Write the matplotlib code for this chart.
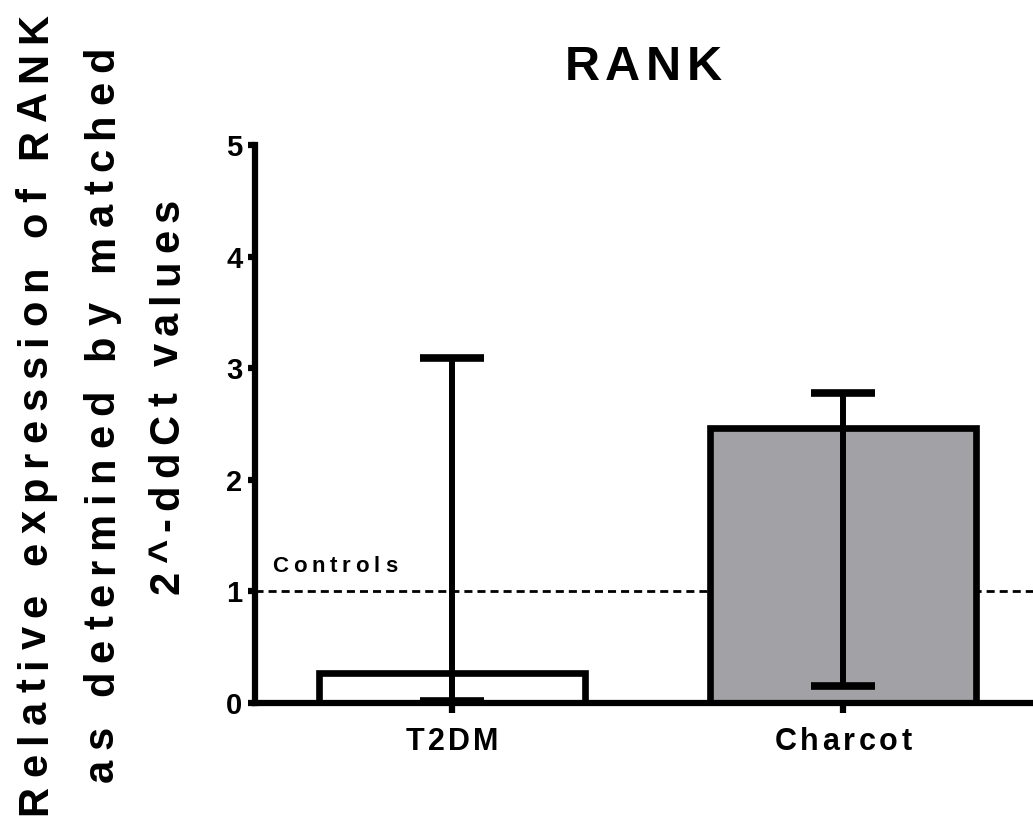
import matplotlib
matplotlib.use('Agg')
import matplotlib.pyplot as plt
from matplotlib.font_manager import FontProperties
from matplotlib.transforms import IdentityTransform

FONT = ['Liberation Sans Narrow', 'Liberation Sans', 'DejaVu Sans']
plt.rcParams['font.family'] = FONT
plt.rcParams['font.weight'] = 'bold'

groups = ['T2DM', 'Charcot']
values = [0.27, 2.46]
err_low = [0.02, 0.15]
err_high = [3.09, 2.78]
bar_colors = ['white', '#a2a1a5']
control_level = 1.0
y_ticks = [0, 1, 2, 3, 4, 5]

W, H = 1033, 819


def advances(renderer, s, prop):
    # width each character adds to a line, spaces included
    base = renderer.get_text_width_height_descent('II', prop, ismath=False)[0]
    return [renderer.get_text_width_height_descent('I' + c + 'I', prop, ismath=False)[0] - base
            for c in s]


def spaced_text(fig, x, y, s, size, span, rotation=0, align='center'):
    """Draw s letter by letter, spread over `span` pixels.

    x, y are display pixels of the baseline anchor; for rotation=90 the
    text runs upwards and x is the baseline.
    """
    renderer = fig.canvas.get_renderer()
    prop = FontProperties(family=FONT, weight='bold', size=size)
    adv = advances(renderer, s, prop)
    track = (span - sum(adv)) / (len(s) - 1)
    pos = -span / 2 if align == 'center' else 0
    for c, a in zip(s, adv):
        if c != ' ':
            px, py = (x, y + pos) if rotation == 90 else (x + pos, y)
            fig.text(px, py, c, fontproperties=prop, rotation=rotation,
                     rotation_mode='anchor', ha='left', va='baseline',
                     transform=IdentityTransform())
        pos += a + track


fig = plt.figure(figsize=(W / 100, H / 100), dpi=100)
ax = fig.add_axes([255 / W, 1 - 703 / H, 1 - 255 / W, (703 - 145) / H])

x = list(range(len(groups)))
yerr = [[v - lo for v, lo in zip(values, err_low)],
        [hi - v for v, hi in zip(values, err_high)]]

ax.bar(x, values, width=0.68, color=bar_colors, edgecolor='black',
       linewidth=4.8, zorder=2)
ax.errorbar(x, values, yerr=yerr, fmt='none', ecolor='black',
            elinewidth=4.3, capsize=23, capthick=5.5, zorder=3)

ax.axhline(control_level, color='black', linestyle=(0, (2.9, 1.8)),
           linewidth=2, zorder=1)

ax.set_xlim(-0.504, 1.486)
ax.set_ylim(0, 5)
ax.set_yticks(y_ticks)
ax.set_yticklabels([str(t) for t in y_ticks], fontsize=21, fontweight='bold')
ax.set_xticks(x)
ax.set_xticklabels([])

for side in ['top', 'right']:
    ax.spines[side].set_visible(False)
for side in ['left', 'bottom']:
    ax.spines[side].set_linewidth(4.5)
ax.tick_params(axis='y', length=5, width=4.5, pad=4)
ax.tick_params(axis='x', length=7, width=4.5)

# category labels under the bars
label_spans = [93, 137]
for xi, g, span in zip(x, groups, label_spans):
    cx = ax.transData.transform((xi, 0))[0]
    spaced_text(fig, cx, H - 750, g, 22, span)

# reference line label
spaced_text(fig, 272, H - 572, 'Controls', 16, 125, align='left')

# title
spaced_text(fig, 643, H - 80, 'RANK', 35, 157)

# three-line y label, rotated
ylabel_lines = ['Relative expression of RANK',
                'as determined by matched',
                '2^-ddCt values']
ylabel_base = [46, 113, 178]
ylabel_mid = [414, 414, 396]
ylabel_span = [802, 735, 395]
for line, bx, mid, span in zip(ylabel_lines, ylabel_base, ylabel_mid, ylabel_span):
    spaced_text(fig, bx, H - mid, line, 30, span, rotation=90)

fig.savefig('out.png', dpi=100)
